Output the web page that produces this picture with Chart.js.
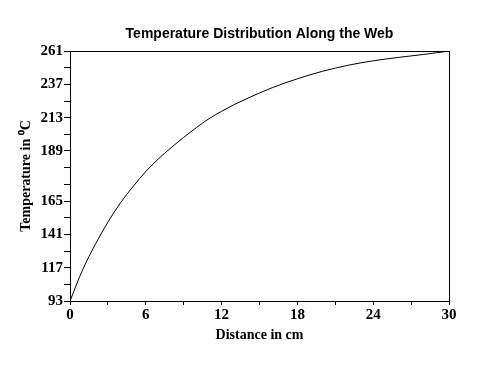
<!DOCTYPE html>
<html>
<head>
<meta charset="utf-8">
<script src="https://cdn.jsdelivr.net/npm/chart.js@4.4.1/dist/chart.umd.min.js"></script>
<style>
    html, body { margin: 0; padding: 0; background: #fff; }
    #wrap { width: 477px; height: 365px; }
</style>
</head>
<body>
<div id="wrap"><canvas id="tempChart" width="477" height="365"></canvas></div>
<script>
// distance along the web (cm)
const distances = [0, 1, 2, 3, 4, 5, 6, 7, 8, 9, 10, 11, 12, 13, 14, 15,
    16, 17, 18, 19, 20, 21, 22, 23, 24, 25, 26, 27, 28, 29, 30];
// temperature (deg C)
const temperatures = [93, 114, 131, 146, 159, 170, 180, 188.5, 196, 203, 209.5,
    215.5, 220.5, 225, 229, 232.8, 236.3, 239.5, 242.3, 245, 247.4, 249.5,
    251.4, 253, 254.4, 255.6, 256.7, 257.7, 258.7, 259.8, 261];

// y axis: 16 tick marks, only some of them labelled (bottom to top)
const yTickLabels = ['93', '', '117', '', '141', '', '165', '', '', '189', '', '213', '', '237', '', '261'];
const yMin = 93;
const yMax = 261;

// x axis: tick every 3 cm, label every 6 cm
const xTickStep = 3;
const xLabelStep = 6;

Chart.defaults.color = '#000';

// black frame around the plot area
const framePlugin = {
    id: 'frame',
    afterDraw(chart) {
        const { ctx, chartArea: a } = chart;
        ctx.save();
        ctx.strokeStyle = '#000';
        ctx.lineWidth = 1;
        ctx.strokeRect(Math.round(a.left) + 0.5, Math.round(a.top) + 0.5,
            Math.round(a.right - a.left), Math.round(a.bottom - a.top));
        ctx.restore();
    }
};

const ctx = document.getElementById('tempChart');
new Chart(ctx, {
    type: 'line',
    data: {
        datasets: [{
            data: distances.map((d, i) => ({ x: d, y: temperatures[i] })),
            borderColor: '#000',
            borderWidth: 1,
            pointRadius: 0,
            fill: false,
            cubicInterpolationMode: 'monotone'
        }]
    },
    options: {
        responsive: false,
        animation: false,
        layout: { padding: { left: 0, right: 28, top: 0, bottom: 20 } },
        plugins: {
            legend: { display: false },
            tooltip: { enabled: false },
            title: {
                display: true,
                fullSize: false,
                text: 'Temperature Distribution Along the Web',
                color: '#000',
                font: { family: 'Liberation Sans', size: 14, weight: 'bold' },
                padding: { top: 26, bottom: 8.2 }
            }
        },
        scales: {
            x: {
                type: 'linear',
                min: 0,
                max: 30,
                afterFit: (s) => { s.height = 44; },
                border: { display: true, color: '#000', width: 1 },
                grid: { drawOnChartArea: false, drawTicks: true, tickLength: 4, color: '#000' },
                ticks: {
                    stepSize: xTickStep,
                    autoSkip: false,
                    maxRotation: 0,
                    padding: 1,
                    font: { family: 'Liberation Serif', size: 15, weight: 'bold' },
                    callback: (v) => (v % xLabelStep === 0 ? String(v) : '')
                },
                title: {
                    display: true,
                    text: 'Distance in cm',
                    font: { family: 'Liberation Serif', size: 14, weight: 'bold' },
                    padding: { top: 0, bottom: 1.6 }
                }
            },
            y: {
                type: 'linear',
                min: yMin,
                max: yMax,
                afterFit: (s) => { s.width = 70; },
                afterBuildTicks: (s) => {
                    const step = (yMax - yMin) / (yTickLabels.length - 1);
                    s.ticks = yTickLabels.map((_, i) => ({ value: yMin + i * step }));
                },
                border: { display: true, color: '#000', width: 1 },
                grid: { drawOnChartArea: false, drawTicks: true, tickLength: 6, color: '#000' },
                ticks: {
                    autoSkip: false,
                    padding: 1,
                    font: { family: 'Liberation Serif', size: 15, weight: 'bold' },
                    callback: (v, i) => yTickLabels[i]
                },
                title: {
                    display: true,
                    text: 'Temperature in \u2070C',
                    font: { family: 'Liberation Serif', size: 14, weight: 'bold' },
                    padding: { top: 18, bottom: 0 }
                }
            }
        }
    },
    plugins: [framePlugin]
});
</script>
</body>
</html>
